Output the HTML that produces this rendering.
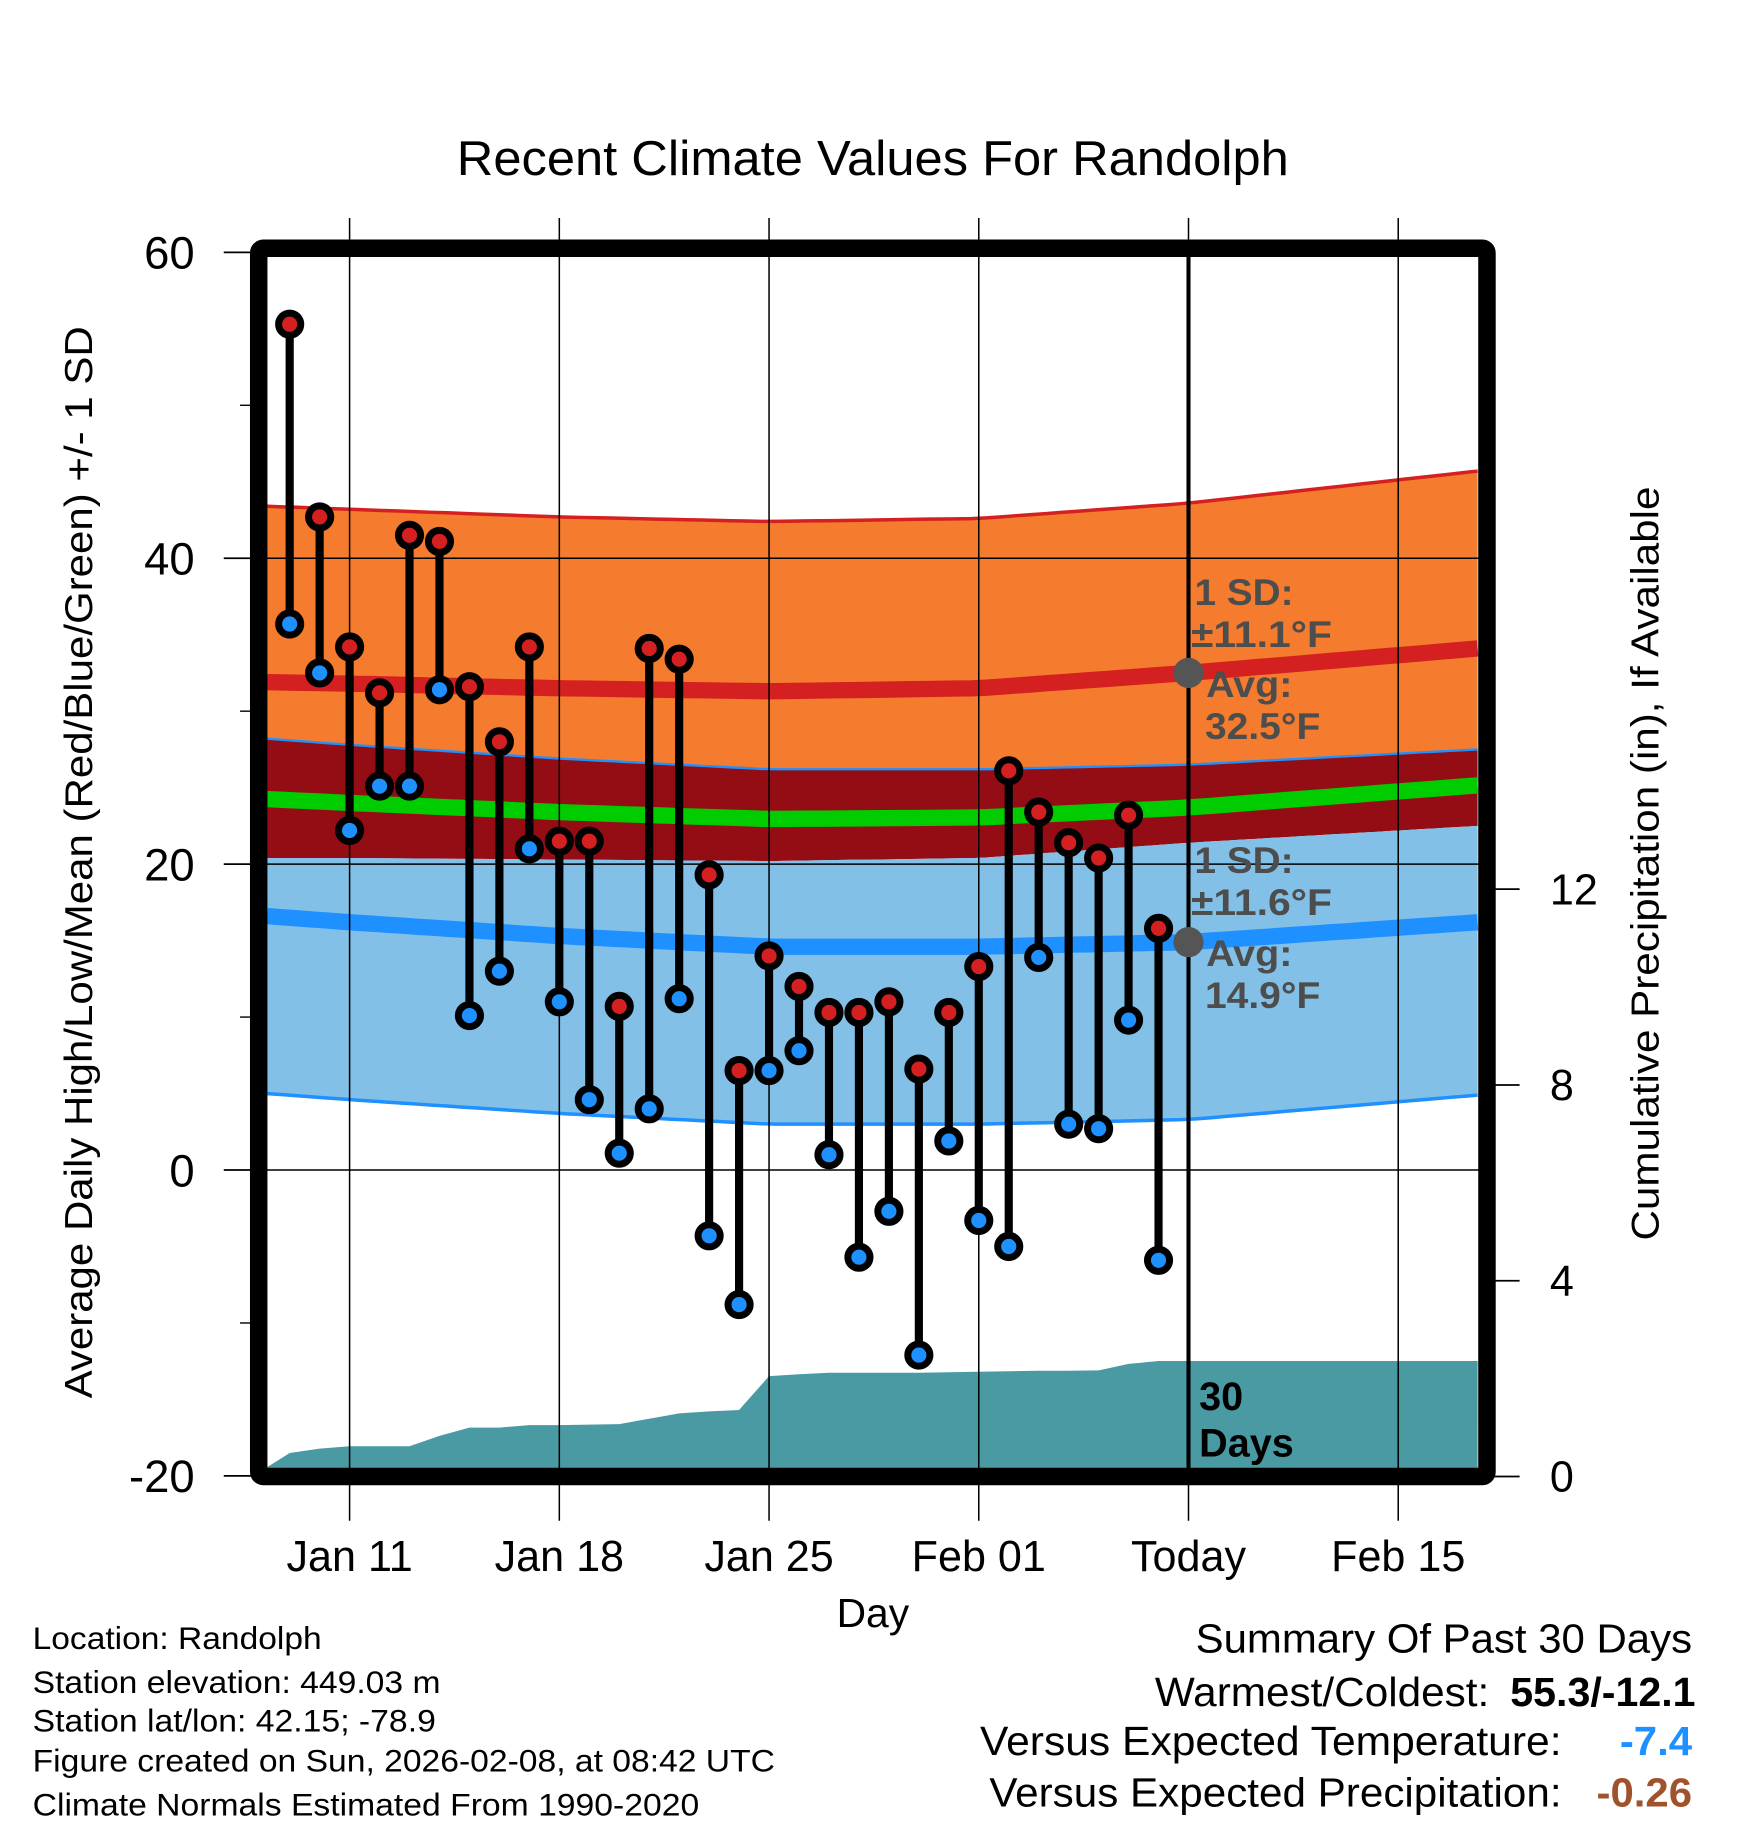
<!DOCTYPE html>
<html><head><meta charset="utf-8"><style>
html,body{margin:0;padding:0;background:#fff}
svg{display:block}
text{font-family:"Liberation Sans",sans-serif}
</style></head><body>
<svg id="chart" width="1748" height="1828" viewBox="0 0 1500 1568.6" xmlns="http://www.w3.org/2000/svg">
<text x="749" y="150" font-size="42" text-anchor="middle" textLength="714" lengthAdjust="spacingAndGlyphs">Recent Climate Values For Randolph</text>
<g id="bands"></g>
<g id="precip"></g>
<g id="grid"></g>
<g id="marks"></g>
<g id="annot"></g>
<g id="axes"></g>
<text transform="translate(79,740) rotate(-90)" font-size="33" text-anchor="middle" textLength="920" lengthAdjust="spacingAndGlyphs">Average Daily High/Low/Mean (Red/Blue/Green) +/- 1 SD</text>
<text transform="translate(1423,741) rotate(-90)" font-size="33" text-anchor="middle" textLength="647" lengthAdjust="spacingAndGlyphs">Cumulative Precipitation (in), If Available</text>
<text x="749" y="1396" font-size="35" text-anchor="middle">Day</text>
<g font-size="27">
<text x="28" y="1415" textLength="248" lengthAdjust="spacingAndGlyphs">Location: Randolph</text>
<text x="28" y="1453" textLength="350" lengthAdjust="spacingAndGlyphs">Station elevation: 449.03 m</text>
<text x="28" y="1486" textLength="346" lengthAdjust="spacingAndGlyphs">Station lat/lon: 42.15; -78.9</text>
<text x="28" y="1520" textLength="637" lengthAdjust="spacingAndGlyphs">Figure created on Sun, 2026-02-08, at 08:42 UTC</text>
<text x="28" y="1558" textLength="572" lengthAdjust="spacingAndGlyphs">Climate Normals Estimated From 1990-2020</text>
</g>
<g font-size="35">
<text x="1452" y="1418" text-anchor="end" textLength="426" lengthAdjust="spacingAndGlyphs">Summary Of Past 30 Days</text>
<text x="1278" y="1464" text-anchor="end" textLength="287" lengthAdjust="spacingAndGlyphs">Warmest/Coldest:</text>
<text x="1455" y="1464" text-anchor="end" font-weight="bold" textLength="159" lengthAdjust="spacingAndGlyphs">55.3/-12.1</text>
<text x="1340" y="1506" text-anchor="end" textLength="499" lengthAdjust="spacingAndGlyphs">Versus Expected Temperature:</text>
<text x="1452" y="1506" text-anchor="end" font-weight="bold" fill="#1e90ff" textLength="62" lengthAdjust="spacingAndGlyphs">-7.4</text>
<text x="1340" y="1550" text-anchor="end" textLength="491" lengthAdjust="spacingAndGlyphs">Versus Expected Precipitation:</text>
<text x="1452" y="1550" text-anchor="end" font-weight="bold" fill="#a0522d" textLength="82" lengthAdjust="spacingAndGlyphs">-0.26</text>
</g>
</svg>
<script>
// ---- data ----
const highs=[55.3,42.7,34.2,31.2,41.5,41.1,31.6,28.0,34.2,21.5,21.5,10.7,34.1,33.4,19.3,6.5,14.0,12.0,10.3,10.3,11.0,6.6,10.3,13.3,26.1,23.4,21.4,20.4,23.2,15.8];
const lows=[35.7,32.5,22.2,25.1,25.1,31.4,10.1,13.0,21.0,11.0,4.6,1.1,4.0,11.2,-4.3,-8.8,6.5,7.8,1.0,-5.7,-2.7,-12.1,1.9,-3.3,-5.0,13.9,3.0,2.7,9.8,-5.9];
const precipDays=[-2.75,-2,-1,0,1,2,3,4,5,6,7,8,9,10,11,12,13,14,15,16,17,18,19,20,21,22,23,24,25,26,27,37.65];
const precipVals=[0.19,0.48,0.57,0.62,0.62,0.62,0.83,1.0,1.0,1.05,1.05,1.06,1.07,1.18,1.29,1.33,1.36,2.05,2.09,2.12,2.12,2.12,2.12,2.13,2.14,2.15,2.16,2.16,2.17,2.3,2.36,2.36];
const normDays=[-2.75,0,7,14,21,28,37.65];
const highMean=[31.9,31.8,31.5,31.3,31.5,32.5,34.1];
const lowMean=[16.6,16.2,15.3,14.6,14.6,14.9,16.2];
const highSD=[11.5,11.4,11.2,11.1,11.1,11.1,11.6];
const lowSD=[11.6,11.6,11.6,11.6,11.6,11.6,11.3];
const tempTicks=[60,40,20,0,-20];
const precipTicks=[0,4,8,12];
const dateTicks=[0,7,14,21,28,35];
const dateLabels=["Jan 11","Jan 18","Jan 25","Feb 01","Today","Feb 15"];
const firstDay=-2;
// ---- scales ----
const X=d=>300+d*25.71;
const Y=t=>1004-t*13.125;
const P=p=>1267-p*42;
const NS="http://www.w3.org/2000/svg";
function mk(parent,tag,attrs){const e=document.createElementNS(NS,tag);for(const k in attrs)e.setAttribute(k,attrs[k]);parent.appendChild(e);return e;}
const D0=normDays[0],D1=normDays[normDays.length-1];
function interp(arr,d){for(let i=0;i<normDays.length-1;i++){if(d<=normDays[i+1]){const t=(d-normDays[i])/(normDays[i+1]-normDays[i]);return arr[i]+t*(arr[i+1]-arr[i]);}}return arr[arr.length-1];}
const samples=[];for(let d=D0;d<D1;d+=0.5)samples.push(d);samples.push(D1);
function line(f){return samples.map(d=>X(d).toFixed(1)+","+Y(f(d)).toFixed(1));}
function area(f1,f2){return line(f1).concat(line(f2).reverse()).join(" ");}
const hm=d=>interp(highMean,d),lm=d=>interp(lowMean,d),hs=d=>interp(highSD,d),ls=d=>interp(lowSD,d);
const bands=document.getElementById('bands');
let e;
e=mk(bands,'polygon',{points:area(d=>hm(d)+hs(d),d=>lm(d)+ls(d)),fill:'#f57b2e'});

e=mk(bands,'polygon',{points:area(d=>lm(d)+ls(d),d=>hm(d)-hs(d)),fill:'#950d14'});

e=mk(bands,'polygon',{points:area(d=>hm(d)-hs(d),d=>lm(d)-ls(d)),fill:'#82c0e8'});

e=mk(bands,'polyline',{points:line(d=>hm(d)+hs(d)).join(" "),fill:'none',stroke:'#d42020','stroke-width':3});

e=mk(bands,'polyline',{points:line(d=>lm(d)+ls(d)).join(" "),fill:'none',stroke:'#1e90ff','stroke-width':2});

e=mk(bands,'polyline',{points:line(d=>lm(d)-ls(d)).join(" "),fill:'none',stroke:'#1e90ff','stroke-width':3});

e=mk(bands,'polyline',{points:line(hm).join(" "),fill:'none',stroke:'#d42020','stroke-width':14});

e=mk(bands,'polyline',{points:line(d=>(hm(d)+lm(d))/2).join(" "),fill:'none',stroke:'#00cc00','stroke-width':14});

e=mk(bands,'polyline',{points:line(lm).join(" "),fill:'none',stroke:'#1e90ff','stroke-width':14});

// precip
const pg=document.getElementById('precip');
let pts=precipDays.map((d,i)=>X(d).toFixed(1)+","+P(precipVals[i]).toFixed(1));
pts.push(X(precipDays[precipDays.length-1])+","+P(0));pts.push(X(precipDays[0])+","+P(0));
e=mk(pg,'polygon',{points:pts.join(" "),fill:'#4a9aa4'});

// grid
const gg=document.getElementById('grid');
dateTicks.forEach(d=>{e=mk(gg,'line',{x1:X(d),x2:X(d),y1:187,y2:1305,stroke:'#000','stroke-width':1.3});
});
[40,20,0].forEach(t=>{e=mk(gg,'line',{x1:222,x2:1276,y1:Y(t),y2:Y(t),stroke:'#000','stroke-width':1.3});
});
// marks
const mg=document.getElementById('marks');
highs.forEach((h,i)=>{const x=X(firstDay+i);
e=mk(mg,'line',{x1:x,x2:x,y1:Y(h),y2:Y(lows[i]),stroke:'#000','stroke-width':7});
});
highs.forEach((h,i)=>{const x=X(firstDay+i);
e=mk(mg,'circle',{cx:x,cy:Y(h),r:9.5,fill:'#d42020',stroke:'#000','stroke-width':6});

e=mk(mg,'circle',{cx:x,cy:Y(lows[i]),r:9.5,fill:'#1e90ff',stroke:'#000','stroke-width':6});
});
// today annotations
const ag=document.getElementById('annot');
e=mk(ag,'line',{x1:X(28),x2:X(28),y1:217,y2:1262,stroke:'#000','stroke-width':3.5});

e=mk(ag,'circle',{cx:X(28),cy:Y(hm(28)),r:13,fill:'#555'});

e=mk(ag,'circle',{cx:X(28),cy:Y(lm(28)),r:13,fill:'#555'});

function txt(p,x,y,s,attrs){const t=mk(p,'text',Object.assign({x:x,y:y},attrs||{}));t.textContent=s;return t;}
const A={'font-size':32,'font-weight':'bold',fill:'#4d4d4d'};
[["1 SD:",1025,519,85],["±11.1°F",1022,555,121],["Avg:",1035,598,74],["32.5°F",1034,634,99],["1 SD:",1025,749,85],["±11.6°F",1022,785,121],["Avg:",1035,829,74],["14.9°F",1034,865,99]].forEach(a=>{
e=txt(ag,a[1],a[2],a[0],Object.assign({textLength:a[3],lengthAdjust:'spacingAndGlyphs'},A));});
e=txt(ag,1029,1210,"30",{'font-size':34,'font-weight':'bold'});
e=txt(ag,1029,1250,"Days",{'font-size':34,'font-weight':'bold'});
// axes
const xg=document.getElementById('axes');
e=mk(xg,'rect',{x:222,y:213,width:1054,height:1054,rx:4,fill:'none',stroke:'#000','stroke-width':15});

tempTicks.forEach(t=>{e=mk(xg,'line',{x1:192,x2:216,y1:Y(t),y2:Y(t),stroke:'#000','stroke-width':1.5});

e=txt(xg,167,Y(t)+14,String(t),{'font-size':39,'text-anchor':'end'});
});
[50,30,10,-10].forEach(t=>{e=mk(xg,'line',{x1:206,x2:216,y1:Y(t),y2:Y(t),stroke:'#000','stroke-width':1.2});
});
precipTicks.forEach(p=>{e=mk(xg,'line',{x1:1282,x2:1304,y1:P(p),y2:P(p),stroke:'#000','stroke-width':1.5});

e=txt(xg,1330,P(p)+13,String(p),{'font-size':37});
});
dateTicks.forEach((d,i)=>{e=txt(xg,X(d),1348,dateLabels[i],{'font-size':37,'text-anchor':'middle'});
});
</script>
</body></html>
